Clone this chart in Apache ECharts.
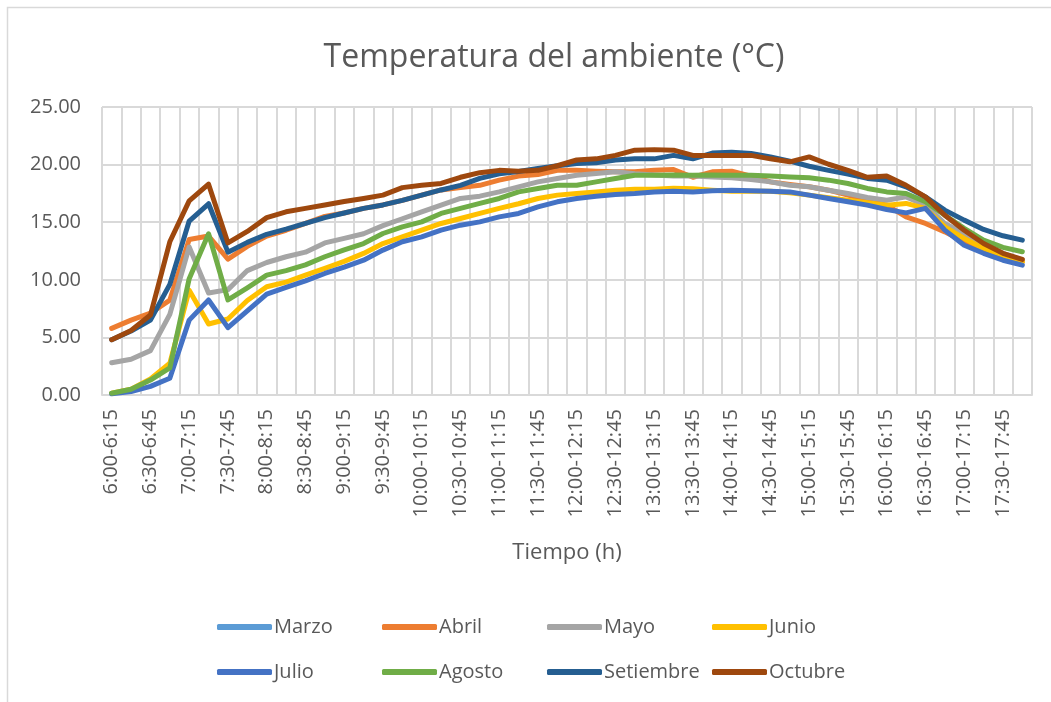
<!DOCTYPE html>
<html>
<head>
<meta charset="utf-8">
<title>Temperatura del ambiente</title>
<script src="https://cdn.jsdelivr.net/npm/echarts@6/dist/echarts.min.js"></script>
<style>
  html, body { margin: 0; padding: 0; background: #fff; }
  #tsContainer { width: 1051px; height: 702px; }
</style>
</head>
<body>
<div id="tsContainer"></div>
<script>
// franjas de 15 minutos, 6:00 a 18:00
var categorias = [
  "6:00-6:15", "6:15-6:30", "6:30-6:45", "6:45-7:00",
  "7:00-7:15", "7:15-7:30", "7:30-7:45", "7:45-8:00",
  "8:00-8:15", "8:15-8:30", "8:30-8:45", "8:45-9:00",
  "9:00-9:15", "9:15-9:30", "9:30-9:45", "9:45-10:00",
  "10:00-10:15", "10:15-10:30", "10:30-10:45", "10:45-11:00",
  "11:00-11:15", "11:15-11:30", "11:30-11:45", "11:45-12:00",
  "12:00-12:15", "12:15-12:30", "12:30-12:45", "12:45-13:00",
  "13:00-13:15", "13:15-13:30", "13:30-13:45", "13:45-14:00",
  "14:00-14:15", "14:15-14:30", "14:30-14:45", "14:45-15:00",
  "15:00-15:15", "15:15-15:30", "15:30-15:45", "15:45-16:00",
  "16:00-16:15", "16:15-16:30", "16:30-16:45", "16:45-17:00",
  "17:00-17:15", "17:15-17:30", "17:30-17:45", "17:45-18:00"
];

// Marzo no se ve en el gráfico (queda tapado)
var marzo = [];
var abril = [5.78, 6.5, 7.1, 8.24, 13.5, 13.8, 11.8, 12.9, 13.8, 14.3, 14.9, 15.5,
  15.8, 16.2, 16.5, 16.9, 17.35, 17.8, 18.0, 18.2, 18.65, 19.0, 19.14, 19.5,
  19.5, 19.43, 19.37, 19.37, 19.5, 19.57, 18.9, 19.37, 19.43, 19.0, 18.5, 18.27,
  18.07, 17.78, 17.35, 16.9, 16.48, 15.46, 14.89, 14.16, 13.3, 12.64, 12.0, 11.56];
var mayo = [2.8, 3.1, 3.85, 7.0, 12.85, 8.85, 9.15, 10.8, 11.5, 12.0, 12.4, 13.2,
  13.6, 14.0, 14.7, 15.3, 15.9, 16.48, 17.06, 17.26, 17.63, 18.07, 18.5, 18.8,
  19.08, 19.23, 19.37, 19.2, 19.1, 19.0, 19.0, 18.93, 18.85, 18.7, 18.5, 18.2,
  18.07, 17.78, 17.49, 17.14, 16.9, 17.2, 16.48, 14.89, 14.02, 13.0, 12.3, 11.7];
var junio = [0.15, 0.5, 1.4, 2.75, 9.1, 6.16, 6.6, 8.2, 9.4, 9.8, 10.4, 11.0,
  11.6, 12.29, 13.15, 13.73, 14.31, 14.89, 15.32, 15.76, 16.2, 16.6, 17.06, 17.35,
  17.49, 17.63, 17.78, 17.87, 17.87, 17.95, 17.9, 17.78, 17.69, 17.69, 17.69, 17.55,
  17.35, 17.12, 16.9, 16.68, 16.48, 16.63, 16.2, 14.6, 13.59, 12.72, 12.14, 11.56];
var julio = [0.1, 0.3, 0.75, 1.45, 6.5, 8.25, 5.85, 7.3, 8.75, 9.34, 9.9, 10.55,
  11.1, 11.7, 12.58, 13.3, 13.73, 14.31, 14.74, 15.03, 15.46, 15.76, 16.33, 16.77,
  17.06, 17.26, 17.4, 17.49, 17.63, 17.69, 17.63, 17.72, 17.78, 17.72, 17.69, 17.63,
  17.35, 17.06, 16.77, 16.48, 16.1, 15.81, 16.2, 14.31, 13.0, 12.3, 11.7, 11.27];
var agosto = [0.15, 0.5, 1.3, 2.35, 10.1, 14.0, 8.25, 9.3, 10.4, 10.8, 11.3, 12.0,
  12.6, 13.15, 14.02, 14.6, 15.03, 15.76, 16.2, 16.63, 17.06, 17.63, 17.93, 18.2,
  18.2, 18.5, 18.8, 19.08, 19.08, 19.1, 19.08, 19.1, 19.08, 19.08, 19.0, 18.93,
  18.85, 18.65, 18.36, 17.93, 17.63, 17.49, 16.77, 15.6, 14.46, 13.44, 12.81, 12.43];
var setiembre = [4.8, 5.55, 6.5, 9.6, 15.1, 16.6, 12.4, 13.25, 13.95, 14.4, 14.9, 15.4,
  15.8, 16.2, 16.5, 16.9, 17.35, 17.8, 18.2, 18.8, 19.2, 19.4, 19.66, 19.9,
  20.1, 20.15, 20.4, 20.5, 20.5, 20.8, 20.5, 21.0, 21.07, 20.96, 20.67, 20.3,
  19.86, 19.5, 19.17, 18.8, 18.65, 18.07, 17.2, 16.05, 15.18, 14.37, 13.82, 13.44];
var octubre = [4.8, 5.6, 6.94, 13.3, 16.85, 18.3, 13.2, 14.2, 15.4, 15.9, 16.2, 16.5,
  16.8, 17.06, 17.35, 18.0, 18.2, 18.36, 18.9, 19.3, 19.5, 19.43, 19.5, 19.9,
  20.4, 20.5, 20.8, 21.25, 21.3, 21.25, 20.8, 20.8, 20.8, 20.8, 20.5, 20.24,
  20.67, 20.03, 19.5, 18.9, 19.0, 18.2, 17.2, 15.6, 14.3, 13.15, 12.3, 11.77];

var meses = ["Marzo", "Abril", "Mayo", "Junio", "Julio", "Agosto", "Setiembre", "Octubre"];
var valores = [marzo, abril, mayo, junio, julio, agosto, setiembre, octubre];
var colores = ["#5B9BD5", "#ED7D31", "#A5A5A5", "#FFC000", "#4472C4", "#70AD47", "#255E91", "#9E480E"];

var fuente = "'Open Sans', 'Noto Sans', sans-serif";
var gris = "#595959";
var rejilla = "#D9D9D9";

var myChart = echarts.init(document.getElementById("tsContainer"));

var series = meses.map(function (mes, i) {
  return {
    name: mes,
    type: "line",
    data: valores[i],
    showSymbol: false,
    symbol: "none",
    color: colores[i],
    lineStyle: { width: 5, cap: "round", join: "round" },
    animation: false
  };
});

// una leyenda por mes, en 4 columnas fijas como en Excel
var leyendas = meses.map(function (mes, i) {
  return {
    data: [mes],
    left: 212 + (i % 4) * 165,
    top: i < 4 ? 612 : 657,
    icon: "roundRect",
    itemWidth: 55,
    itemHeight: 6,
    selectedMode: false,
    textStyle: {
      color: gris,
      fontFamily: fuente,
      fontSize: 20,
      padding: [0, 0, 0, -3]
    }
  };
});

myChart.setOption({
  backgroundColor: "#fff",
  title: {
    text: "Temperatura del ambiente (°C)",
    left: 549,
    top: 37,
    textAlign: "center",
    textStyle: {
      color: gris,
      fontFamily: fuente,
      fontSize: 32,
      fontWeight: "normal"
    }
  },
  graphic: [{
    type: "rect",
    shape: { x: 7.5, y: 7.5, width: 1100, height: 800 },
    style: { fill: "none", stroke: rejilla, lineWidth: 1.5 },
    silent: true
  }],
  legend: leyendas,
  grid: {
    left: 102,
    right: 19,
    top: 107,
    bottom: 307
  },
  xAxis: {
    type: "category",
    data: categorias,
    boundaryGap: true,
    name: "Tiempo (h)",
    nameLocation: "middle",
    nameGap: 147,
    nameTextStyle: { color: gris, fontFamily: fuente, fontSize: 22 },
    axisLine: { lineStyle: { color: rejilla, width: 2 } },
    axisTick: { show: false },
    axisLabel: {
      interval: 1,
      rotate: 90,
      margin: 14,
      color: gris,
      fontFamily: fuente,
      fontSize: 20
    },
    splitLine: { show: true, interval: 0, lineStyle: { color: rejilla, width: 2 } }
  },
  yAxis: {
    type: "value",
    min: 0,
    max: 25,
    interval: 5,
    axisLine: { show: false },
    axisTick: { show: false },
    axisLabel: {
      margin: 21,
      color: gris,
      fontFamily: fuente,
      fontSize: 20,
      formatter: function (v) { return v.toFixed(2); }
    },
    splitLine: { lineStyle: { color: rejilla, width: 2 } }
  },
  series: series
});
</script>
</body>
</html>
